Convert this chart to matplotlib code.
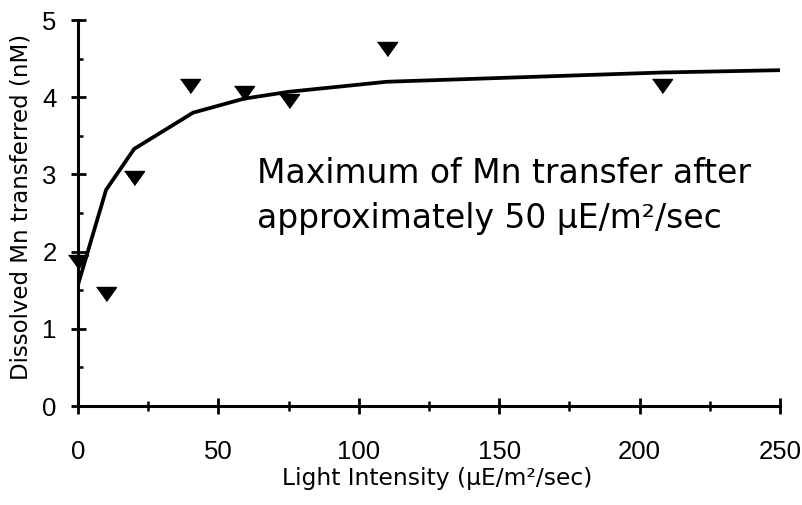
import matplotlib
matplotlib.use('Agg')
import matplotlib.pyplot as plt
from matplotlib.ticker import FixedLocator

plt.rcParams['font.family'] = ['Liberation Sans', 'DejaVu Sans']

# Observed data (triangles)
light_obs = [0, 10, 20, 40, 59, 75, 110, 208]
mn_obs = [1.87, 1.45, 2.95, 4.14, 4.05, 3.95, 4.62, 4.14]

# Fitted curve
light_fit = [0, 10, 20, 41, 59, 75, 110, 208, 250]
mn_fit = [1.57, 2.80, 3.33, 3.80, 3.98, 4.07, 4.20, 4.32, 4.35]

xticks = [0, 50, 100, 150, 200, 250]
yticks = [0, 1, 2, 3, 4, 5]
xticklabels = ['0', '50', '100', '150', '200', '250']
yticklabels = ['0', '1', '2', '3', '4', '5']
xminor = [25, 75, 125, 175, 225]
yminor = [0.5, 1.5, 2.5, 3.5, 4.5]

W, H = 803, 505
fig = plt.figure(figsize=(W / 100, H / 100), dpi=100)
ax = fig.add_axes([78 / W, 99 / H, 702 / W, 386 / H])

tri = [(-1, 0.7), (1, 0.7), (0, -0.7)]
ax.plot(light_fit, mn_fit, color='black', lw=2.7, solid_joinstyle='miter', zorder=3)
ax.plot(light_obs, mn_obs, linestyle='none', marker=tri, ms=14.4, color='black',
        clip_on=False, zorder=4)

ax.set_xlim(0, 250)
ax.set_ylim(0, 5)
ax.set_xticks(xticks, xticklabels)
ax.set_yticks(yticks, yticklabels)
ax.xaxis.set_minor_locator(FixedLocator(xminor))
ax.yaxis.set_minor_locator(FixedLocator(yminor))

for s in ['top', 'right']:
    ax.spines[s].set_visible(False)
for s in ['left', 'bottom']:
    ax.spines[s].set_linewidth(2.2)

ax.tick_params(axis='x', which='major', direction='inout', length=11.5, width=2.0, pad=19,
               labelsize=18.5, labelfontfamily='Liberation Sans')
ax.tick_params(axis='x', which='minor', direction='inout', length=7.2, width=1.8)
ax.tick_params(axis='y', which='major', direction='inout', length=10.8, width=2.0, pad=10,
               labelsize=18.5, labelfontfamily='Liberation Sans')
ax.tick_params(axis='y', which='minor', direction='in', length=3.6, width=1.8)

fig.text(437 / W, (H - 485) / H, 'Light Intensity (µE/m²/sec)', ha='center', va='baseline',
         fontsize=16.8, family='DejaVu Sans')
fig.text(21 / W, (H - 207) / H, 'Dissolved Mn transferred (nM)', ha='center', va='center',
         rotation=90, fontsize=16.5, family='DejaVu Sans')

ax.text((257 - 78) / 702, (406 - 183) / 386, 'Maximum of Mn transfer after',
        transform=ax.transAxes, ha='left', va='baseline', fontsize=23.8, family='DejaVu Sans')
ax.text((257 - 78) / 702, (406 - 228) / 386, 'approximately 50 µE/m²/sec',
        transform=ax.transAxes, ha='left', va='baseline', fontsize=23.8, family='DejaVu Sans')

fig.savefig('out.png', dpi=100)
